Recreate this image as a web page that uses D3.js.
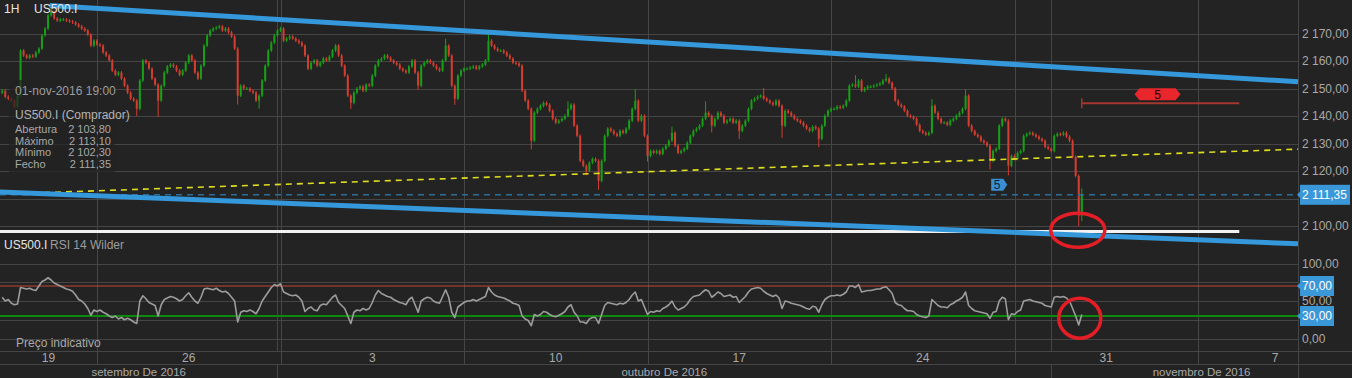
<!DOCTYPE html>
<html>
<head>
<meta charset="utf-8">
<script src="https://cdn.jsdelivr.net/npm/d3@7"></script>
<style>
html, body { margin: 0; padding: 0; background: #232323; overflow: hidden; }
svg { display: block; font-family: "Liberation Sans", Arial, sans-serif; }
</style>
</head>
<body>
<svg id="chart" width="1352" height="378"></svg>
<script>
// ---- data ----
const sessionDays = [
	"2016-09-21", "2016-09-22", "2016-09-23",
	"2016-09-26", "2016-09-27", "2016-09-28", "2016-09-29", "2016-09-30",
	"2016-10-03", "2016-10-04", "2016-10-05", "2016-10-06", "2016-10-07",
	"2016-10-10", "2016-10-11", "2016-10-12", "2016-10-13", "2016-10-14",
	"2016-10-17", "2016-10-18", "2016-10-19", "2016-10-20", "2016-10-21",
	"2016-10-24", "2016-10-25", "2016-10-26", "2016-10-27", "2016-10-28",
	"2016-10-31", "2016-11-01"
];

// 2-hour closes, one row per session day
const closes = [
	[2149.2, 2147.0, 2146.3, 2145.6, 2143.4, 2147.4, 2163.8, 2162.0],
	[2161.2, 2162.0, 2161.6, 2163.1, 2164.5, 2169.3, 2171.8, 2176.6, 2177.7, 2175.5, 2174.7, 2175.1],
	[2175.1, 2174.7, 2174.4, 2174.0, 2173.3, 2172.6, 2171.8, 2171.1, 2169.6, 2165.6, 2167.4, 2166.0],
	[2165.6, 2163.1, 2162.0, 2160.2, 2156.5, 2155.0, 2155.8, 2153.6, 2151.0, 2148.5, 2146.3, 2145.6],
	[2142.6, 2152.9, 2160.2, 2159.4, 2157.2, 2153.6, 2151.4, 2145.6, 2151.0, 2155.8, 2158.0, 2158.7],
	[2158.0, 2156.5, 2155.0, 2156.5, 2159.4, 2162.0, 2160.2, 2155.8, 2153.6, 2158.3, 2165.6, 2169.3],
	[2171.1, 2171.8, 2172.2, 2172.6, 2171.1, 2171.8, 2170.4, 2168.9, 2164.5, 2147.4, 2151.0, 2150.0],
	[2150.0, 2149.2, 2148.5, 2145.6, 2147.4, 2152.9, 2158.3, 2163.8, 2166.7, 2169.3, 2171.1, 2171.8],
	[2167.4, 2168.2, 2168.9, 2168.2, 2167.4, 2166.7, 2165.6, 2162.0, 2157.2, 2159.4, 2160.2, 2158.3],
	[2159.4, 2160.9, 2160.2, 2161.6, 2163.8, 2165.6, 2162.0, 2158.3, 2154.7, 2147.4, 2144.8, 2148.5],
	[2150.0, 2150.7, 2149.2, 2151.4, 2151.0, 2154.7, 2158.3, 2160.2, 2160.9, 2162.0, 2161.2, 2160.2],
	[2159.4, 2158.7, 2157.2, 2156.5, 2155.8, 2158.0, 2160.2, 2155.8, 2151.0, 2158.3, 2159.4, 2160.2],
	[2159.4, 2158.3, 2157.2, 2156.5, 2160.2, 2165.6, 2162.0, 2151.0, 2146.3, 2154.7, 2156.5, 2157.2],
	[2157.2, 2157.6, 2158.0, 2157.2, 2158.0, 2158.7, 2160.2, 2167.4, 2165.6, 2164.5, 2163.8, 2163.8],
	[2163.1, 2162.0, 2160.9, 2159.4, 2159.1, 2158.3, 2149.2, 2145.6, 2142.6, 2131.0, 2141.2, 2142.6],
	[2143.7, 2144.8, 2144.1, 2141.9, 2139.0, 2137.6, 2138.3, 2139.0, 2140.1, 2142.6, 2144.1, 2136.5],
	[2132.8, 2123.7, 2121.9, 2120.1, 2123.0, 2124.4, 2123.7, 2116.4, 2123.7, 2132.8, 2135.4, 2134.6],
	[2133.5, 2132.8, 2134.6, 2133.9, 2135.4, 2138.3, 2142.6, 2145.6, 2138.3, 2140.1, 2132.8, 2125.5],
	[2127.3, 2126.6, 2127.3, 2126.2, 2128.1, 2129.2, 2131.0, 2133.9, 2129.2, 2126.6, 2127.3, 2128.1],
	[2130.3, 2132.8, 2134.6, 2135.4, 2136.5, 2139.0, 2141.2, 2140.1, 2136.5, 2139.0, 2141.2, 2140.1],
	[2137.6, 2138.3, 2139.0, 2137.6, 2138.3, 2134.6, 2136.5, 2138.3, 2142.6, 2145.6, 2146.3, 2147.0],
	[2147.4, 2146.3, 2145.6, 2144.8, 2144.1, 2145.6, 2143.7, 2136.5, 2141.9, 2141.2, 2140.1, 2139.0],
	[2138.3, 2137.6, 2136.5, 2135.4, 2134.6, 2136.1, 2135.4, 2131.7, 2136.5, 2140.1, 2141.9, 2142.6],
	[2142.6, 2143.4, 2143.0, 2143.7, 2145.6, 2151.0, 2151.4, 2150.7, 2152.9, 2149.2, 2150.0, 2150.7],
	[2150.7, 2151.0, 2151.4, 2151.8, 2152.9, 2153.6, 2152.1, 2150.0, 2145.6, 2144.1, 2143.4, 2141.9],
	[2140.1, 2139.7, 2139.0, 2136.8, 2134.6, 2133.9, 2133.2, 2133.9, 2143.7, 2141.2, 2139.0, 2137.6],
	[2137.6, 2136.8, 2138.3, 2139.0, 2140.1, 2141.2, 2142.6, 2147.4, 2136.5, 2134.6, 2133.2, 2132.5],
	[2131.0, 2130.3, 2129.2, 2123.7, 2127.3, 2128.1, 2136.5, 2139.0, 2138.3, 2121.9, 2125.5, 2124.4],
	[2126.6, 2127.3, 2132.8, 2133.5, 2133.9, 2133.2, 2132.5, 2131.7, 2131.0, 2128.8, 2128.1, 2127.3],
	[2132.8, 2133.5, 2133.2, 2133.9, 2132.5, 2131.0, 2125.1, 2118.2, 2103.8, 2111.35]
];

// RSI 14 Wilder, same bars
const rsiValues = [
	[55, 50, 52, 47, 45, 46, 68, 67],
	[66, 67, 65, 64, 70, 76, 78, 81, 78, 74, 72, 70],
	[68, 66, 65, 63, 58, 52, 50, 46, 40, 31, 38, 36],
	[38, 35, 33, 30, 28, 30, 26, 28, 25, 27, 25, 22],
	[20, 50, 57, 53, 48, 46, 44, 30, 45, 52, 54, 56],
	[55, 53, 50, 52, 57, 61, 55, 50, 47, 55, 66, 67],
	[66, 65, 67, 64, 62, 63, 60, 55, 50, 22, 35, 37],
	[36, 38, 36, 33, 40, 50, 56, 62, 68, 72, 70, 73],
	[62, 60, 58, 57, 58, 55, 50, 36, 40, 42, 38, 37],
	[44, 46, 45, 50, 55, 58, 48, 44, 40, 30, 20, 35],
	[38, 37, 40, 38, 40, 48, 58, 64, 60, 58, 56, 55],
	[52, 50, 48, 47, 45, 52, 55, 45, 35, 50, 53, 55],
	[54, 50, 48, 47, 56, 65, 55, 35, 28, 42, 45, 48],
	[50, 50, 52, 50, 52, 54, 56, 68, 62, 58, 56, 55],
	[54, 52, 50, 47, 46, 44, 30, 26, 24, 17, 32, 30],
	[32, 36, 35, 32, 30, 29, 31, 33, 36, 42, 45, 35],
	[30, 22, 22, 20, 26, 28, 28, 20, 32, 44, 48, 47],
	[46, 45, 47, 46, 48, 52, 58, 62, 50, 52, 42, 32],
	[36, 35, 37, 36, 40, 42, 45, 50, 42, 38, 40, 42],
	[46, 52, 56, 57, 58, 62, 65, 63, 55, 58, 62, 60],
	[56, 57, 58, 55, 56, 48, 52, 56, 62, 66, 67, 68],
	[67, 63, 60, 58, 56, 58, 54, 40, 50, 49, 47, 46],
	[45, 44, 42, 40, 39, 43, 42, 35, 45, 52, 55, 57],
	[57, 58, 57, 59, 62, 70, 70, 68, 72, 62, 63, 64],
	[64, 65, 66, 66, 68, 69, 65, 60, 48, 45, 44, 40],
	[37, 37, 36, 32, 30, 29, 28, 30, 52, 48, 44, 42],
	[42, 41, 45, 47, 50, 52, 55, 62, 44, 40, 37, 36],
	[35, 34, 33, 27, 35, 36, 50, 55, 53, 25, 33, 32],
	[36, 38, 50, 51, 52, 50, 49, 48, 47, 44, 43, 42],
	[55, 56, 55, 56, 54, 50, 40, 30, 18, 32]
];

const firstOpen = 2148.5;
// wick extremes that stick out of the bodies
const wickExtremes = [
	["2016-09-22 17:00", 2179.8], ["2016-09-27 01:00", 2140.6], ["2016-09-27 15:00", 2140.2],
	["2016-09-29 19:00", 2144.7], ["2016-09-30 09:00", 2143.2], ["2016-10-04 21:00", 2143.1],
	["2016-10-06 17:00", 2150.0], ["2016-10-07 11:00", 2167.6], ["2016-10-07 17:00", 2144.6],
	["2016-10-10 15:00", 2169.2], ["2016-10-11 19:00", 2128.4], ["2016-10-12 19:00", 2144.8],
	["2016-10-13 07:00", 2119.0], ["2016-10-13 15:00", 2113.7], ["2016-10-14 15:00", 2149.3],
	["2016-10-14 23:00", 2124.0], ["2016-10-17 15:00", 2135.6], ["2016-10-18 13:00", 2144.8],
	["2016-10-18 17:00", 2134.6], ["2016-10-19 11:00", 2132.2], ["2016-10-20 03:00", 2149.6],
	["2016-10-20 15:00", 2132.6], ["2016-10-21 15:00", 2129.2], ["2016-10-24 15:00", 2154.3],
	["2016-10-25 11:00", 2154.7], ["2016-10-26 17:00", 2145.6], ["2016-10-27 15:00", 2149.2],
	["2016-10-28 07:00", 2121.1], ["2016-10-28 19:00", 2119.0], ["2016-11-01 17:00", 2100.5]
];

const lastBar = { time: "2016-11-01 19:00", open: 2103.80, high: 2113.10, low: 2102.30, close: 2111.35 };
const infoTitle = "01-nov-2016 19:00";
const infoName = "US500.I (Comprador)";
const infoLabels = ["Abertura", "Máximo", "Mínimo", "Fecho"];

const priceTicks = [2100, 2110, 2120, 2130, 2140, 2150, 2160, 2170];
// 2 110,00 sits under the last-price box, so it carries no label
const priceLabels = [2100, 2120, 2130, 2140, 2150, 2160, 2170];
const rsiGrid = [0, 25, 50, 75, 100];
const rsiTicks = [0, 50, 100];
const rsiLevels = [70, 30];

const weekStarts = ["2016-09-19", "2016-09-26", "2016-10-03", "2016-10-10", "2016-10-17", "2016-10-24", "2016-10-31", "2016-11-07"];
const weekLabels = ["19", "26", "3", "10", "17", "24", "31", "7"];
const monthStarts = ["2016-09-01", "2016-10-01", "2016-11-01"];
const monthLabels = ["setembro De 2016", "outubro De 2016", "novembro De 2016"];

// drawn studies: [time, price] anchors
const upperChannel = [["2016-09-22 17:00", 2180.2], ["2016-11-01 19:00", 2157.3]];
const lowerChannel = [["2016-09-21 09:00", 2112.4], ["2016-11-01 19:00", 2096.7]];
const yellowTrend = [["2016-09-21 09:00", 2111.6], ["2016-11-01 19:00", 2125.2]];
const supportLevel = 2098.0;
const targetLevel = 2144.6;
const markerEnd = "2016-11-08 03:00";
const blueMarker = ["2016-10-28 14:00", 2115.0, "5"];
const redMarkerText = "5";
const priceCircleLevel = 2098.5;
const rsiCircleLevel = 27;

// ---- setup ----
const svg = d3.select('#chart');
const plotRight = 1298;
const fullWidth = 1352;
const gridColour = '#454545';
const textColour = '#a9a9a9';
const fontSize = 12;
const smallFont = 11;

const parseTime = d3.utcParse('%Y-%m-%d %H:%M');
const parseDay = d3.utcParse('%Y-%m-%d');
const origin = Date.UTC(2016, 8, 19);
const fridayClose = 22;

// hours counted on trading days only (24 per weekday)
function tradingHours(date) {
	const diff = (date - origin) / 864e5;
	const dayIdx = Math.floor(diff);
	const week = Math.floor(dayIdx / 7);
	const dow = dayIdx - week * 7;
	if (dow >= 5) return (week + 1) * 120;
	return week * 120 + dow * 24 + (diff - dayIdx) * 24;
}
function monthBoundary(date) {
	const dayIdx = Math.floor((date - origin) / 864e5);
	const week = Math.floor(dayIdx / 7);
	const dow = dayIdx - week * 7;
	if (dow >= 5) return week * 120 + 4 * 24 + fridayClose;
	return tradingHours(date);
}

const x = d3.scaleLinear().domain([0, 120]).range([-86.5, 97]);
const y = d3.scaleLinear().domain([2100, 2170]).range([226, 33.5]);
const yRsi = d3.scaleLinear().domain([0, 100]).range([338.5, 263.5]);
const locale = d3.formatLocale({ decimal: ",", thousands: " ", grouping: [3], currency: ["", ""] });
const fmt = locale.format(",.2f");

// ---- bars ----
const bars = [];
let prev = firstOpen;
sessionDays.forEach((day, i) => {
	const n = closes[i].length;
	const startHour = i === 0 ? 25 - 2 * n : 1;
	const base = tradingHours(parseDay(day));
	closes[i].forEach((c, j) => {
		const hour = startHour + 2 * j;
		bars.push({
			key: `${day} ${String(hour).padStart(2, '0')}:00`,
			h: base + hour,
			open: prev, close: c,
			high: Math.max(prev, c), low: Math.min(prev, c),
			rsi: rsiValues[i][j]
		});
		prev = c;
	});
});
const last = bars[bars.length - 1];
last.open = lastBar.open; last.high = lastBar.high; last.low = lastBar.low; last.close = lastBar.close;
wickExtremes.forEach(([key, p]) => {
	const b = bars.find(d => d.key === key);
	if (!b) return;
	if (p > Math.max(b.open, b.close)) b.high = Math.max(b.high, p);
	else b.low = Math.min(b.low, p);
});
const barX = b => x(b.h + 1);
const lastX = barX(last);

svg.append('defs').append('clipPath').attr('id', 'plot')
	.append('rect').attr('x', 0).attr('y', 0).attr('width', plotRight).attr('height', 351);

// ---- grid ----
const grid = svg.append('g').attr('stroke', gridColour).attr('stroke-width', 1);
priceTicks.forEach(t => {
	grid.append('line').attr('x1', 0).attr('x2', plotRight)
		.attr('y1', Math.round(y(t)) + 0.5).attr('y2', Math.round(y(t)) + 0.5);
});
rsiGrid.forEach(t => {
	grid.append('line').attr('x1', 0).attr('x2', plotRight)
		.attr('y1', Math.round(yRsi(t)) + 0.5).attr('y2', Math.round(yRsi(t)) + 0.5);
});
[351.5, 364.5].forEach(v => grid.append('line').attr('x1', 0).attr('x2', fullWidth).attr('y1', v).attr('y2', v));

const weekX = weekStarts.map(d => x(tradingHours(parseDay(d))));
const monthX = monthStarts.map(d => x(monthBoundary(parseDay(d))));
weekX.forEach(v => {
	if (v <= 0 || v >= plotRight) return;
	grid.append('line').attr('x1', Math.round(v) + 0.5).attr('x2', Math.round(v) + 0.5).attr('y1', 0).attr('y2', 364);
});
monthX.forEach(v => {
	if (v <= 0 || v >= plotRight) return;
	grid.append('line').attr('x1', Math.round(v) + 0.5).attr('x2', Math.round(v) + 0.5).attr('y1', 0).attr('y2', 351);
	grid.append('line').attr('x1', Math.round(v) + 0.5).attr('x2', Math.round(v) + 0.5).attr('y1', 364).attr('y2', 378);
});
grid.append('line').attr('x1', plotRight + 0.5).attr('x2', plotRight + 0.5).attr('y1', 0).attr('y2', 378);

// RSI level lines
svg.append('line').attr('x1', 0).attr('x2', plotRight)
	.attr('y1', yRsi(rsiLevels[0])).attr('y2', yRsi(rsiLevels[0]))
	.attr('stroke', '#c4473b').attr('stroke-width', 1);
svg.append('line').attr('x1', 0).attr('x2', plotRight)
	.attr('y1', yRsi(rsiLevels[1])).attr('y2', yRsi(rsiLevels[1]))
	.attr('stroke', '#0c8a0c').attr('stroke-width', 2);

// ---- candles ----
const candles = svg.append('g').attr('clip-path', 'url(#plot)');
const up = '#17a017', down = '#d23e30';
candles.selectAll('line.wick').data(bars).join('line')
	.attr('class', 'wick')
	.attr('x1', d => barX(d)).attr('x2', d => barX(d))
	.attr('y1', d => y(d.high) - 1.5).attr('y2', d => y(d.low) + 1.5)
	.attr('stroke', d => d.close >= d.open ? up : down).attr('stroke-width', 1);
candles.selectAll('rect.body').data(bars).join('rect')
	.attr('class', 'body')
	.attr('x', d => barX(d) - 1).attr('width', 2)
	.attr('y', d => y(Math.max(d.open, d.close)))
	.attr('height', d => Math.max(1, Math.abs(y(d.open) - y(d.close))))
	.attr('fill', d => d.close >= d.open ? up : down);

// ---- RSI line ----
svg.append('path').datum(bars)
	.attr('clip-path', 'url(#plot)')
	.attr('fill', 'none').attr('stroke', '#9c9c9c').attr('stroke-width', 1.6)
	.attr('stroke-linejoin', 'round')
	.attr('d', d3.line().x(barX).y(d => yRsi(d.rsi)));

// ---- studies ----
function anchorPx(a) { return [x(tradingHours(parseTime(a[0]))), y(a[1])]; }
function extendTo(p1, p2, xe) { return p1[1] + (p2[1] - p1[1]) * (xe - p1[0]) / (p2[0] - p1[0]); }

const yt1 = anchorPx(yellowTrend[0]), yt2 = anchorPx(yellowTrend[1]);
svg.append('line')
	.attr('x1', 0).attr('y1', extendTo(yt1, yt2, 0))
	.attr('x2', plotRight).attr('y2', extendTo(yt1, yt2, plotRight))
	.attr('stroke', '#dede1e').attr('stroke-width', 1.6).attr('stroke-dasharray', '6,5');

svg.append('line')
	.attr('x1', 0).attr('x2', plotRight)
	.attr('y1', y(lastBar.close)).attr('y2', y(lastBar.close))
	.attr('stroke', '#2d6d9a').attr('stroke-width', 1.6).attr('stroke-dasharray', '6,5');

const endX = x(tradingHours(parseTime(markerEnd)));
svg.append('line').attr('x1', 0).attr('x2', endX)
	.attr('y1', y(supportLevel)).attr('y2', y(supportLevel))
	.attr('stroke', '#f2f2f2').attr('stroke-width', 3);

const channelColour = '#3498db';
const u1 = anchorPx(upperChannel[0]), u2 = anchorPx(upperChannel[1]);
svg.append('line').attr('x1', u1[0]).attr('y1', u1[1])
	.attr('x2', plotRight).attr('y2', extendTo(u1, u2, plotRight))
	.attr('stroke', channelColour).attr('stroke-width', 5);
const l1 = anchorPx(lowerChannel[0]), l2 = anchorPx(lowerChannel[1]);
svg.append('line').attr('x1', 0).attr('y1', extendTo(l1, l2, 0))
	.attr('x2', plotRight).attr('y2', extendTo(l1, l2, plotRight))
	.attr('stroke', channelColour).attr('stroke-width', 5);

// red target line with label
const ty = y(targetLevel);
svg.append('line').attr('x1', lastX).attr('x2', endX).attr('y1', ty).attr('y2', ty)
	.attr('stroke', '#a5372e').attr('stroke-width', 2);
svg.append('line').attr('x1', lastX).attr('x2', lastX).attr('y1', ty - 5).attr('y2', ty + 5)
	.attr('stroke', '#a5372e').attr('stroke-width', 1.5);
const rmx = (lastX + endX) / 2 - 3, rmy = ty - 9;
svg.append('polygon')
	.attr('points', [[rmx - 23, rmy], [rmx - 18, rmy - 6], [rmx + 18, rmy - 6], [rmx + 23, rmy], [rmx + 18, rmy + 6], [rmx - 18, rmy + 6]].join(' '))
	.attr('fill', '#e8262b');
svg.append('text').attr('x', rmx).attr('y', rmy).attr('dy', '0.36em')
	.attr('text-anchor', 'middle').attr('font-size', fontSize).attr('fill', '#2a0000').text(redMarkerText);

// blue marker
const bmx = x(tradingHours(parseTime(blueMarker[0]))), bmy = y(blueMarker[1]);
svg.append('polygon')
	.attr('points', [[bmx - 8, bmy - 6], [bmx + 4, bmy - 6], [bmx + 8, bmy], [bmx + 4, bmy + 6], [bmx - 8, bmy + 6]].join(' '))
	.attr('fill', '#3a8fd4');
svg.append('text').attr('x', bmx - 2).attr('y', bmy).attr('dy', '0.36em')
	.attr('text-anchor', 'middle').attr('font-size', fontSize).attr('fill', '#10223a').text(blueMarker[2]);

// red ellipses
svg.append('ellipse').attr('cx', lastX - 4).attr('cy', y(priceCircleLevel)).attr('rx', 27).attr('ry', 17)
	.attr('fill', 'none').attr('stroke', '#e41e26').attr('stroke-width', 3.5);
svg.append('ellipse').attr('cx', lastX - 2).attr('cy', yRsi(rsiCircleLevel)).attr('rx', 21).attr('ry', 20)
	.attr('fill', 'none').attr('stroke', '#e41e26').attr('stroke-width', 3.5);

// ---- axes ----
const priceAxis = svg.append('g').attr('transform', `translate(${plotRight},0)`)
	.call(d3.axisRight(y).tickValues(priceLabels).tickSize(0).tickPadding(4).tickFormat(fmt));
const rsiAxis = svg.append('g').attr('transform', `translate(${plotRight},0)`)
	.call(d3.axisRight(yRsi).tickValues(rsiTicks).tickSize(0).tickPadding(4).tickFormat(fmt));
[priceAxis, rsiAxis].forEach(a => {
	a.select('.domain').remove();
	a.selectAll('text').attr('fill', textColour).attr('font-size', fontSize)
		.attr('font-family', '"Liberation Sans", Arial, sans-serif');
});

function valueBox(v, scale, w) {
	const cy = scale(v);
	const g = svg.append('g');
	g.append('polygon').attr('points', [[plotRight - 1, cy], [plotRight + 3, cy - 4], [plotRight + 3, cy + 4]].join(' ')).attr('fill', '#3a98d8');
	g.append('rect').attr('x', plotRight + 2).attr('y', cy - 10).attr('width', w).attr('height', 20).attr('fill', '#3a98d8');
	g.append('text').attr('x', plotRight + 4).attr('y', cy).attr('dy', '0.36em')
		.attr('font-size', fontSize).attr('fill', '#ffffff').text(fmt(v));
}
valueBox(lastBar.close, y, 50);
rsiLevels.forEach(v => valueBox(v, yRsi, 34));

// date axis
const weekW = x(120) - x(0);
weekLabels.forEach((lab, i) => {
	const a = Math.max(0, weekX[i]), b = Math.min(fullWidth, weekX[i] + weekW);
	svg.append('text').attr('x', (a + b) / 2).attr('y', 358).attr('dy', '0.36em')
		.attr('text-anchor', 'middle').attr('font-size', fontSize).attr('fill', textColour).text(lab);
});
monthLabels.forEach((lab, i) => {
	const a = Math.max(0, monthX[i]);
	const b = i + 1 < monthX.length ? monthX[i + 1] : fullWidth;
	svg.append('text').attr('x', (a + Math.min(fullWidth, b)) / 2).attr('y', 371.5).attr('dy', '0.36em')
		.attr('text-anchor', 'middle').attr('font-size', 11.5).attr('fill', textColour).text(lab);
});

// ---- headers / info ----
svg.append('text').attr('x', 4).attr('y', 13).attr('font-size', fontSize).attr('fill', '#e6e6e6').text('1H');
svg.append('text').attr('x', 34).attr('y', 13).attr('font-size', fontSize).attr('fill', '#e6e6e6').text('US500.I');

svg.append('rect').attr('x', 9).attr('y', 80).attr('width', 106).attr('height', 92).attr('fill', 'rgba(34,34,34,0.72)');
svg.append('text').attr('x', 15).attr('y', 95).attr('font-size', fontSize).attr('fill', '#9c9c9c').text(infoTitle);
svg.append('text').attr('x', 15).attr('y', 119).attr('font-size', fontSize).attr('fill', '#b4b4b4').text(infoName);
const infoValues = [lastBar.open, lastBar.high, lastBar.low, lastBar.close];
infoLabels.forEach((lab, i) => {
	const by = 133 + i * 11.7;
	svg.append('text').attr('x', 15).attr('y', by).attr('font-size', smallFont).attr('fill', '#a8a8a8').text(lab);
	svg.append('text').attr('x', 111).attr('y', by).attr('text-anchor', 'end').attr('font-size', smallFont).attr('fill', '#a8a8a8').text(fmt(infoValues[i]));
});

svg.append('text').attr('x', 4).attr('y', 249).attr('font-size', fontSize).attr('fill', '#e6e6e6').text('US500.I');
svg.append('text').attr('x', 50).attr('y', 249).attr('font-size', fontSize).attr('fill', '#9c9c9c').text('RSI 14 Wilder');
svg.append('text').attr('x', 16).attr('y', 347).attr('font-size', fontSize).attr('fill', textColour).text('Preço indicativo');
</script>
</body>
</html>
